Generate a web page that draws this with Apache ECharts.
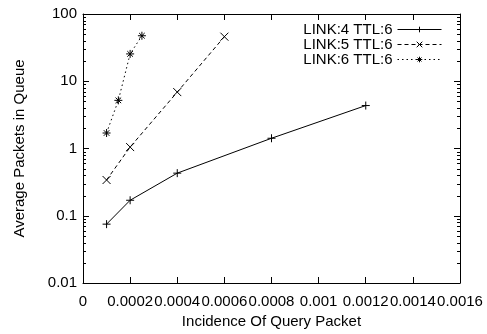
<!DOCTYPE html>
<html>
<head>
<meta charset="utf-8">
<script src="https://cdn.jsdelivr.net/npm/echarts@6/dist/echarts.min.js"></script>
<style>
  html, body { margin: 0; padding: 0; background: #fff; }
  #chart { width: 487px; height: 334px; }
</style>
</head>
<body>
<div id="chart"></div>
<script>
// Measured queue length versus query-packet incidence, one run per link count.
const seriesNames = ['LINK:4 TTL:6', 'LINK:5 TTL:6', 'LINK:6 TTL:6'];

const link4X = [0.0001, 0.0002, 0.0004, 0.0008, 0.0012];
const link4Y = [0.075, 0.17, 0.43, 1.42, 4.35];

const link5X = [0.0001, 0.0002, 0.0004, 0.0006];
const link5Y = [0.34, 1.05, 6.9, 46];

const link6X = [0.0001, 0.00015, 0.0002, 0.00025];
const link6Y = [1.7, 5.2, 25.5, 47.5];

// Axis ranges and labels
const xMin = 0, xMax = 0.0016, xStep = 0.0002;
const yMin = 0.01, yMax = 100;
const yDecades = [0.01, 0.1, 1, 10];
const minorMultipliers = [2, 3, 4, 5, 6, 7, 8, 9];

const FONT = '"Liberation Sans", Arial, Helvetica, sans-serif';

function pairs(xs, ys) { return xs.map((x, i) => [x, ys[i]]); }

function fmtNum(v) { return String(parseFloat(Number(v).toPrecision(6))); }

// minor log ticks (2..9 within each decade), drawn on both vertical borders
const minorTicks = [];
yDecades.forEach(d => minorMultipliers.forEach(m => minorTicks.push([xMin, d * m])));

const plusPath = 'path://M0,5L10,5M5,0L5,10';
const crossPath = 'path://M0,0L10,10M10,0L0,10';
const starPath = 'path://M0,5L10,5M5,0L5,10M1.5,1.5L8.5,8.5M8.5,1.5L1.5,8.5';

function lineSeries(name, data, symbol, lineType) {
  return {
    name: name,
    type: 'line',
    data: data,
    symbol: symbol,
    symbolSize: 8,
    showAllSymbol: true,
    animation: false,
    lineStyle: { color: '#000', width: 1, type: lineType },
    itemStyle: { color: '#000', borderColor: '#000', borderWidth: 1 },
    emphasis: { disabled: true }
  };
}

const chart = echarts.init(document.getElementById('chart'), null, { renderer: 'canvas' });

const axisLineStyle = { show: true, onZero: false, lineStyle: { color: '#000', width: 1 } };
const tickStyle = { show: true, inside: true, length: 6, lineStyle: { color: '#000', width: 1 } };

chart.setOption({
  backgroundColor: '#fff',
  animation: false,
  textStyle: { fontFamily: FONT, color: '#000' },
  grid: { left: 83, right: 27, top: 14, bottom: 50, containLabel: false },
  legend: {
    orient: 'vertical',
    right: 45,
    top: 22,
    padding: 0,
    align: 'right',
    itemGap: 0,
    itemWidth: 44,
    itemHeight: 7,
    selectedMode: false,
    data: seriesNames,
    lineStyle: { width: 1 },
    itemStyle: { borderWidth: 1 },
    textStyle: { fontFamily: FONT, fontSize: 15, color: '#000', lineHeight: 14.5 }
  },
  xAxis: [
    {
      type: 'value',
      position: 'bottom',
      min: xMin, max: xMax, interval: xStep,
      name: 'Incidence Of Query Packet',
      nameLocation: 'middle',
      nameGap: 31,
      nameTextStyle: { fontFamily: FONT, fontSize: 15, color: '#000' },
      axisLine: axisLineStyle,
      axisTick: tickStyle,
      axisLabel: {
        fontFamily: FONT, fontSize: 15, color: '#000', margin: 11,
        showMinLabel: true, showMaxLabel: true, hideOverlap: false,
        formatter: fmtNum
      },
      splitLine: { show: false }
    },
    {
      type: 'value',
      position: 'top',
      min: xMin, max: xMax, interval: xStep,
      axisLine: axisLineStyle,
      axisTick: tickStyle,
      axisLabel: { show: false },
      splitLine: { show: false }
    }
  ],
  yAxis: [
    {
      type: 'log',
      logBase: 10,
      position: 'left',
      min: yMin, max: yMax,
      splitNumber: 4,
      name: 'Average Packets in Queue',
      nameLocation: 'middle',
      nameGap: 56,
      nameRotate: 90,
      nameTextStyle: { fontFamily: FONT, fontSize: 15, color: '#000' },
      axisLine: axisLineStyle,
      axisTick: tickStyle,
      axisLabel: {
        fontFamily: FONT, fontSize: 15, color: '#000', margin: 6,
        showMinLabel: true, showMaxLabel: true,
        formatter: fmtNum
      },
      splitLine: { show: false }
    },
    {
      type: 'log',
      logBase: 10,
      position: 'right',
      min: yMin, max: yMax,
      splitNumber: 4,
      axisLine: axisLineStyle,
      axisTick: tickStyle,
      axisLabel: { show: false },
      splitLine: { show: false }
    }
  ],
  series: [
    lineSeries(seriesNames[0], pairs(link4X, link4Y), plusPath, 'solid'),
    lineSeries(seriesNames[1], pairs(link5X, link5Y), crossPath, [4, 3]),
    lineSeries(seriesNames[2], pairs(link6X, link6Y), starPath, [1.5, 3]),
    {
      type: 'custom',
      silent: true,
      animation: false,
      clip: false,
      data: minorTicks,
      encode: { x: 0, y: 1 },
      renderItem: function (params, api) {
        const v = api.value(1);
        const l = api.coord([xMin, v]);
        const r = api.coord([xMax, v]);
        const y = Math.round(l[1]) + 0.5;
        return {
          type: 'group',
          children: [
            { type: 'line', shape: { x1: l[0], y1: y, x2: l[0] + 3, y2: y }, style: { stroke: '#000', lineWidth: 1 } },
            { type: 'line', shape: { x1: r[0] - 3, y1: y, x2: r[0], y2: y }, style: { stroke: '#000', lineWidth: 1 } }
          ]
        };
      }
    }
  ]
});
</script>
</body>
</html>
